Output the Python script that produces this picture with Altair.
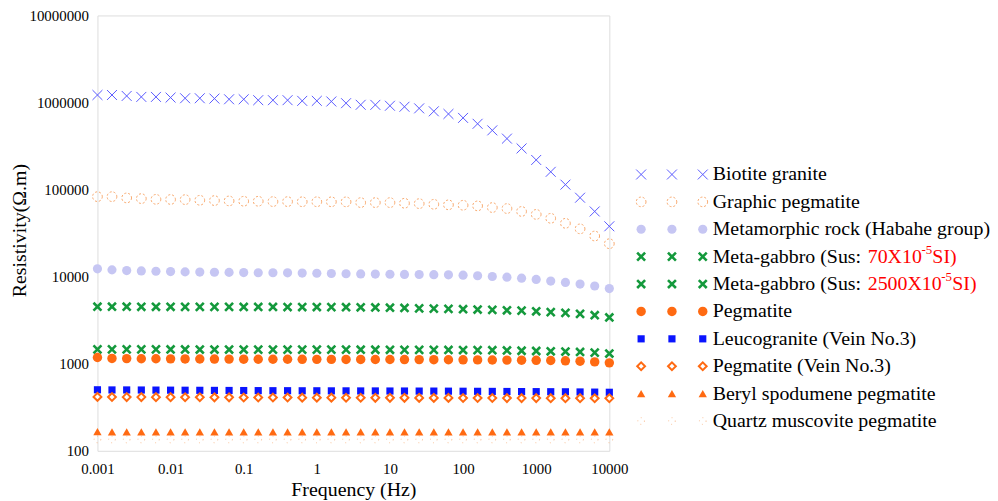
import altair as alt
import pandas as pd

FONT = "Liberation Serif, Times New Roman, serif"

# ---------------- data ----------------
FREQ = [0.001, 0.00158, 0.00251, 0.00398, 0.00631,
        0.01, 0.0158, 0.0251, 0.0398, 0.0631,
        0.1, 0.158, 0.251, 0.398, 0.631,
        1, 1.58, 2.51, 3.98, 6.31,
        10, 15.8, 25.1, 39.8, 63.1,
        100, 158, 251, 398, 631,
        1000, 1580, 2510, 3980, 6310, 10000]

BIOTITE = [1220000, 1220000, 1190000, 1160000, 1160000, 1140000, 1120000, 1120000, 1110000, 1090000,
           1090000, 1064000, 1064000, 1064000, 1045000, 1045000, 1028000, 983000, 942000, 940000,
           918000, 894000, 857000, 793000, 739000, 666000, 570000, 479000, 385000, 297000,
           219000, 160000, 114000, 80700, 56100, 37900]
GRAPHIC = [83000, 83000, 80200, 78800, 77300, 77000, 76700, 75400, 74800, 74100,
           73500, 73500, 72800, 72800, 72500, 72500, 72400, 72300, 70900, 70900,
           70900, 69700, 69000, 67800, 66800, 66100, 65000, 62200, 60600, 56100,
           51900, 46800, 41000, 35400, 29300, 23900]
METAMORPHIC = [12300, 11970, 11750, 11650, 11540, 11450, 11350, 11300, 11250, 11200,
               11150, 11100, 11100, 11070, 11000, 10950, 10870, 10800, 10750, 10700,
               10670, 10620, 10580, 10540, 10500, 10400, 10250, 10040, 9870, 9610,
               9290, 8890, 8590, 8220, 7810, 7300]
GABBRO70 = [4520, 4520, 4520, 4510, 4510, 4510, 4500, 4500, 4500, 4500,
            4490, 4490, 4490, 4480, 4480, 4480, 4470, 4460, 4450, 4430,
            4400, 4370, 4330, 4300, 4260, 4230, 4190, 4150, 4110, 4075,
            4000, 3910, 3840, 3740, 3610, 3400]
GABBRO2500 = [1463, 1463, 1460, 1460, 1460, 1458, 1458, 1456, 1456, 1455,
              1455, 1454, 1453, 1452, 1452, 1450, 1450, 1450, 1448, 1447,
              1446, 1445, 1443, 1441, 1439, 1436, 1433, 1430, 1420, 1410,
              1400, 1390, 1380, 1365, 1340, 1310]
PEGMATITE = [1178, 1150, 1145, 1140, 1140, 1138, 1135, 1133, 1131, 1130,
             1128, 1127, 1126, 1125, 1124, 1123, 1122, 1121, 1120, 1119,
             1118, 1117, 1115, 1113, 1111, 1109, 1107, 1104, 1101, 1098,
             1094, 1090, 1080, 1070, 1050, 1023]
LEUCO = [502, 500, 500, 499, 498, 497, 496, 495, 494, 493,
         492, 491, 490, 490, 489, 489, 488, 488, 487, 487,
         486, 486, 485, 485, 484, 483, 482, 481, 480, 479,
         478, 477, 476, 474, 472, 470]
PEGVEIN = [416, 415, 414, 414, 413, 413, 412, 412, 411, 411,
           410, 410, 409, 409, 408, 408, 408, 407, 407, 406,
           406, 406, 405, 405, 405, 404, 404, 404, 403, 403,
           403, 402, 402, 402, 401, 401]
BERYL = [166, 165, 165, 165, 165, 165, 165, 165, 165, 165,
         165, 165, 165, 165, 165, 165, 165, 165, 165, 165,
         165, 165, 165, 165, 165, 165, 165, 165, 165, 165,
         165, 165, 165, 165, 165, 165]
QUARTZ = [135, 135, 135, 135, 135, 135, 135, 135, 135, 135,
          135, 135, 135, 135, 135, 135, 135, 135, 135, 135,
          135, 135, 135, 135, 135, 135, 135, 135, 135, 135,
          135, 135, 135, 135, 135, 135]

NAMES = ["Biotite granite", "Graphic pegmatite", "Metamorphic rock (Habahe group)",
         "Meta-gabbro (Sus:", "Meta-gabbro (Sus:", "Pegmatite",
         "Leucogranite (Vein No.3)", "Pegmatite (Vein No.3)",
         "Beryl spodumene pegmatite", "Quartz muscovite pegmatite"]
RED_MAIN = ["70X10", "2500X10"]
RED_SUP = ["-5", "-5"]
RED_TAIL = ["SI)", "SI)"]

X_TICKS = [0.001, 0.01, 0.1, 1, 10, 100, 1000, 10000]
Y_TICKS = [100, 1000, 10000, 100000, 1000000, 10000000]

# ---------------- styles ----------------
XPATH = "M-1,-1L1,1M-1,1L1,-1"
ORANGE = "#ff6a12"
LIGHT_ORANGE = "#f7a467"
STYLES = [
    dict(shape=XPATH, filled=False, stroke="#5a5aff", strokeWidth=1, size=100, opacity=1),
    dict(shape="circle", filled=False, stroke=LIGHT_ORANGE, strokeWidth=1, size=95, strokeDash=[2, 2], opacity=1),
    dict(shape="circle", filled=True, fill="#c6c6f3", size=85, opacity=1),
    dict(shape=XPATH, filled=False, stroke="#14993c", strokeWidth=2.6, size=64, opacity=1),
    dict(shape=XPATH, filled=False, stroke="#14993c", strokeWidth=2.6, size=64, opacity=1),
    dict(shape="circle", filled=True, fill=ORANGE, size=90, opacity=1),
    dict(shape="square", filled=True, fill="#0a14ff", size=52, opacity=1),
    dict(shape="diamond", filled=True, fill="white", stroke=ORANGE, strokeWidth=2, size=62, opacity=1),
    dict(shape="triangle-up", filled=True, fill=ORANGE, size=70, opacity=1),
    dict(shape="circle", filled=False, stroke=LIGHT_ORANGE, strokeWidth=1, size=45, strokeDash=[1, 4], opacity=0.7),
]
SERIES = [BIOTITE, GRAPHIC, METAMORPHIC, GABBRO70, GABBRO2500,
          PEGMATITE, LEUCO, PEGVEIN, BERYL, QUARTZ]

# ---------------- main plot ----------------
x_enc = alt.X(
    "freq:Q",
    scale=alt.Scale(type="log", domain=[0.001, 10000]),
    axis=alt.Axis(values=X_TICKS, format="~g", grid=False, ticks=False, domain=False,
                  labelFont=FONT, labelFontSize=15, labelColor="black", labelPadding=11,
                  labelFlush=False, labelOverlap=False,
                  title="Frequency (Hz)", titleFont=FONT, titleFontSize=20,
                  titleFontWeight="normal", titleColor="black",
                  titleY=45, titleBaseline="alphabetic"),
)
y_enc = alt.Y(
    "rho:Q",
    scale=alt.Scale(type="log", domain=[100, 10000000]),
    axis=alt.Axis(values=Y_TICKS, format="d", grid=False, ticks=False, domain=False,
                  labelFont=FONT, labelFontSize=15, labelColor="black", labelPadding=9,
                  labelOverlap=False,
                  title="Resistivity(Ω.m)", titleFont=FONT, titleFontSize=20,
                  titleFontWeight="normal", titleColor="black",
                  titleX=-72, titleY=216, titleBaseline="alphabetic", titleAlign="center"),
)

layers = []
for vals, st in zip(SERIES, STYLES):
    df = pd.DataFrame({"freq": FREQ, "rho": vals})
    layers.append(alt.Chart(df).mark_point(**st).encode(x=x_enc, y=y_enc))

# ---------------- legend (drawn as marks, laid out in pixels) ----------------
PX = "547 + 31 * datum.col"
PY = "160 + 27.56 * datum.row"
lx = alt.X("px:Q", scale=None, axis=None)
ly = alt.Y("py:Q", scale=None, axis=None)

for i, st in enumerate(STYLES):
    ldf = pd.DataFrame({"col": [0, 1, 2], "row": [i, i, i]})
    layers.append(alt.Chart(ldf).transform_calculate(px=PX, py=PY)
                  .mark_point(**st).encode(x=lx, y=ly))

tdf = pd.DataFrame({"col": [2] * len(NAMES), "row": list(range(len(NAMES))), "label": NAMES})
layers.append(
    alt.Chart(tdf).transform_calculate(px=PX, py=PY)
    .mark_text(align="left", baseline="middle", dx=10, font=FONT, fontSize=20, color="black")
    .encode(x=lx, y=ly, text="label:N")
)
for k, (row, sup_dx) in enumerate([(3, 220), (4, 240)]):
    rdf = pd.DataFrame({"col": [2], "row": [row], "main": [RED_MAIN[k]],
                        "sup": [RED_SUP[k]], "tail": [RED_TAIL[k]]})
    base = alt.Chart(rdf).transform_calculate(px=PX, py=PY)
    layers.append(base.mark_text(align="left", baseline="middle", dx=166, font=FONT,
                                 fontSize=20, color="#ff0000")
                  .encode(x=lx, y=ly, text="main:N"))
    layers.append(base.mark_text(align="left", baseline="middle", dx=sup_dx, dy=-7,
                                 font=FONT, fontSize=13, color="#ff0000")
                  .encode(x=lx, y=ly, text="sup:N"))
    layers.append(base.mark_text(align="left", baseline="middle", dx=sup_dx + 11, font=FONT,
                                 fontSize=20, color="#ff0000")
                  .encode(x=lx, y=ly, text="tail:N"))

chart = (
    alt.layer(*layers)
    .properties(width=515, height=438,
                autosize=alt.AutoSizeParams(type="none"),
                padding={"left": 90, "top": 6, "right": 383, "bottom": 49})
    .configure_view(stroke=None)
    .configure_axis(domain=False, ticks=False, grid=False)
    .configure(background="white")
)

chart.save("out.html", embed_options={"renderer": "svg", "actions": False})
